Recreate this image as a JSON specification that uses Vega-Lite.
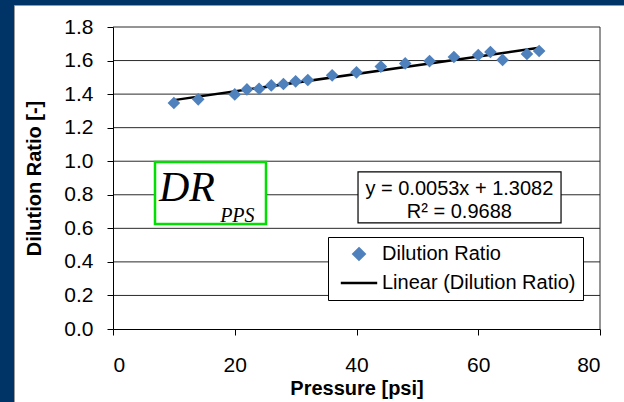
{
  "$schema": "https://vega.github.io/schema/vega-lite/v6.json",
  "width": 487,
  "height": 302,
  "autosize": {"type": "none"},
  "padding": {"left": 113, "top": 27, "right": 24, "bottom": 73},
  "background": "#003466",
  "datasets": {
    "points": [
      {"pressure": 10, "ratio": 1.347},
      {"pressure": 14, "ratio": 1.369},
      {"pressure": 20, "ratio": 1.398},
      {"pressure": 22, "ratio": 1.428},
      {"pressure": 24, "ratio": 1.432},
      {"pressure": 26, "ratio": 1.452},
      {"pressure": 28, "ratio": 1.460},
      {"pressure": 30, "ratio": 1.476},
      {"pressure": 32, "ratio": 1.484},
      {"pressure": 36, "ratio": 1.512},
      {"pressure": 40, "ratio": 1.530},
      {"pressure": 44, "ratio": 1.564},
      {"pressure": 48, "ratio": 1.583},
      {"pressure": 52, "ratio": 1.597},
      {"pressure": 56, "ratio": 1.621},
      {"pressure": 60, "ratio": 1.633},
      {"pressure": 62, "ratio": 1.651},
      {"pressure": 64, "ratio": 1.604},
      {"pressure": 68, "ratio": 1.639},
      {"pressure": 70, "ratio": 1.657}
    ],
    "grid": [
      {"level": 0.2}, {"level": 0.4}, {"level": 0.6}, {"level": 0.8},
      {"level": 1.0}, {"level": 1.2}, {"level": 1.4}, {"level": 1.6}, {"level": 1.8}
    ],
    "one": [{"item": "annotation"}]
  },
  "layer": [
    {
      "data": {"name": "one"},
      "mark": {"type": "rect", "fill": "white", "stroke": "#9a9a9a", "strokeWidth": 1, "clip": false},
      "encoding": {
        "x": {"datum": -16.18, "type": "quantitative"},
        "x2": {"datum": 95},
        "y": {"datum": 1.928, "type": "quantitative"},
        "y2": {"datum": -0.7}
      }
    },
    {
      "data": {"name": "grid"},
      "mark": {"type": "rule", "color": "#2a2a2a", "strokeWidth": 1},
      "encoding": {"y": {"field": "level", "type": "quantitative"}}
    },
    {
      "data": {"name": "one"},
      "mark": {"type": "rule", "color": "#2a2a2a", "strokeWidth": 1},
      "encoding": {"x": {"datum": 80, "type": "quantitative"}}
    },
    {
      "data": {"name": "one"},
      "mark": {"type": "rect", "fill": "white", "stroke": "#00e000", "strokeWidth": 2.5},
      "encoding": {
        "x": {"datum": 6.9, "type": "quantitative"},
        "x2": {"datum": 25.13},
        "y": {"datum": 0.995, "type": "quantitative"},
        "y2": {"datum": 0.626}
      }
    },
    {
      "data": {"name": "one"},
      "mark": {"type": "text", "text": "DR", "font": "Liberation Serif", "fontStyle": "italic", "fontSize": 42, "align": "left", "baseline": "alphabetic", "color": "black"},
      "encoding": {
        "x": {"datum": 7.55, "type": "quantitative"},
        "y": {"datum": 0.763, "type": "quantitative"}
      }
    },
    {
      "data": {"name": "one"},
      "mark": {"type": "text", "text": "PPS", "font": "Liberation Serif", "fontStyle": "italic", "fontSize": 20, "align": "left", "baseline": "alphabetic", "color": "black"},
      "encoding": {
        "x": {"datum": 17.6, "type": "quantitative"},
        "y": {"datum": 0.64, "type": "quantitative"}
      }
    },
    {
      "data": {"name": "one"},
      "mark": {"type": "rect", "fill": "white", "stroke": "black", "strokeWidth": 1.2},
      "encoding": {
        "x": {"datum": 40.25, "type": "quantitative"},
        "x2": {"datum": 73.6},
        "y": {"datum": 0.936, "type": "quantitative"},
        "y2": {"datum": 0.632}
      }
    },
    {
      "data": {"name": "one"},
      "mark": {"type": "text", "text": "y = 0.0053x + 1.3082\nR² = 0.9688", "lineBreak": "\n", "lineHeight": 23, "font": "Liberation Sans", "fontSize": 20, "align": "center", "baseline": "middle", "color": "black"},
      "encoding": {
        "x": {"datum": 56.9, "type": "quantitative"},
        "y": {"datum": 0.832, "type": "quantitative"}
      }
    },
    {
      "data": {"name": "points"},
      "transform": [{"regression": "ratio", "on": "pressure"}],
      "mark": {"type": "line", "strokeWidth": 2.5},
      "encoding": {
        "x": {"field": "pressure", "type": "quantitative"},
        "y": {"field": "ratio", "type": "quantitative"},
        "color": {"datum": "Linear (Dilution Ratio)"}
      }
    },
    {
      "data": {"name": "points"},
      "mark": {"type": "point", "shape": "diamond", "filled": true, "opacity": 1, "size": 160},
      "encoding": {
        "x": {"field": "pressure", "type": "quantitative"},
        "y": {"field": "ratio", "type": "quantitative"},
        "color": {"datum": "Dilution Ratio"}
      }
    }
  ],
  "encoding": {
    "x": {
      "type": "quantitative",
      "scale": {"domain": [0, 80], "nice": false, "zero": false},
      "axis": {"title": "Pressure [psi]", "zindex": 1, "values": [0, 20, 40, 60, 80], "labelPadding": 19, "titlePadding": 3}
    },
    "y": {
      "type": "quantitative",
      "scale": {"domain": [0, 1.8], "nice": false, "zero": false},
      "axis": {"title": "Dilution Ratio [-]", "zindex": 1, "values": [0, 0.2, 0.4, 0.6, 0.8, 1.0, 1.2, 1.4, 1.6, 1.8], "format": ".1f", "labelPadding": 14, "titlePadding": 19}
    },
    "color": {
      "type": "nominal",
      "scale": {"domain": ["Dilution Ratio", "Linear (Dilution Ratio)"], "range": ["#4f81bd", "#000000"]},
      "legend": {
        "orient": "none",
        "legendX": 215,
        "legendY": 210,
        "title": null,
        "strokeColor": "black",
        "fillColor": "white",
        "padding": 7,
        "labelFontSize": 20,
        "labelFont": "Liberation Sans",
        "labelColor": "black",
        "labelLimit": 400,
        "labelOffset": 13,
        "symbolOffset": 14,
        "symbolSize": 196,
        "symbolStrokeWidth": 2.5,
        "rowPadding": 8,
        "encode": {
          "symbols": {
            "update": {
              "shape": {"signal": "datum.value === 'Dilution Ratio' ? 'M0,-0.8L0.8,0L0,0.8L-0.8,0Z' : 'M-2.6,0L2.6,0'"},
              "fill": {"signal": "datum.value === 'Dilution Ratio' ? '#4f81bd' : 'transparent'"},
              "stroke": {"signal": "datum.value === 'Dilution Ratio' ? 'transparent' : 'black'"},
              "strokeWidth": {"value": 2.5},
              "opacity": {"value": 1}
            }
          }
        }
      }
    }
  },
  "config": {
    "view": {"stroke": null},
    "axis": {
      "grid": false,
      "domainColor": "black",
      "domainWidth": 1,
      "tickColor": "black",
      "tickSize": 6,
      "labelFont": "Liberation Sans",
      "labelFontSize": 21,
      "labelColor": "black",
      "titleFont": "Liberation Sans",
      "titleFontSize": 20,
      "titleFontWeight": "bold",
      "titleColor": "black"
    }
  }
}
